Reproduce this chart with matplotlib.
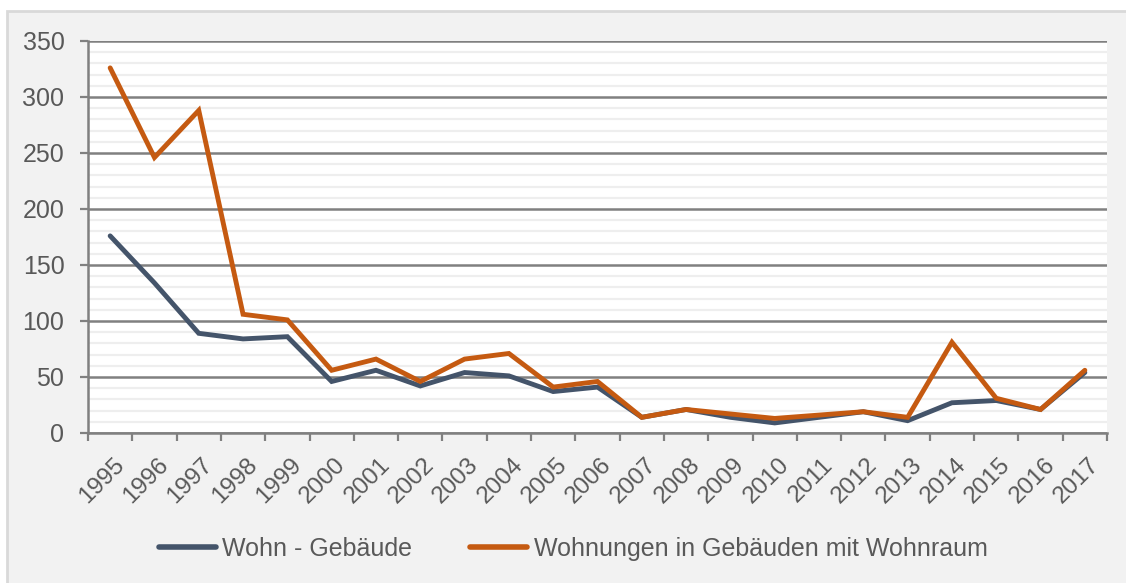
import matplotlib
matplotlib.use("Agg")
import matplotlib.pyplot as plt
from matplotlib.patches import Rectangle
import matplotlib.transforms as mtransforms
import numpy as np

years = [str(y) for y in range(1995, 2018)]
wohn_gebaeude = [176, 134, 89, 84, 86, 46, 56, 42, 54, 51, 37, 41, 14, 21, 14, 9, 14, 19, 11, 27, 29, 21, 54]
wohnungen = [326, 246, 288, 106, 101, 56, 66, 46, 66, 71, 41, 46, 14, 21, 17, 13, 16, 19, 14, 81, 31, 21, 56]
series_names = ["Wohn - Gebäude", "Wohnungen in Gebäuden mit Wohnraum"]
colors = ["#44546a", "#c55a11"]

plt.rcParams['font.family'] = ['Liberation Sans', 'DejaVu Sans']

W, H = 1126, 583
fig = plt.figure(figsize=(W / 100, H / 100), dpi=100)
fig.patch.set_facecolor("white")
# gray panel
panel = Rectangle((7 / W, -0.01), 1.01 - 7 / W, 1.01 - 11 / H, transform=fig.transFigure,
                  facecolor="#f2f2f2", edgecolor="#d9d9d9", linewidth=2, zorder=-10)
fig.patches.append(panel)

ax = fig.add_axes([88 / W, 1 - 433 / H, (1107 - 88) / W, (433 - 41) / H])
ax.set_zorder(5)
ax.set_facecolor("white")

x = np.arange(len(years))
ax.plot(x, wohn_gebaeude, color=colors[0], lw=3.5, label=series_names[0], solid_capstyle="round",
        solid_joinstyle="miter", zorder=3)
ax.plot(x, wohnungen, color=colors[1], lw=3.5, label=series_names[1], solid_capstyle="round",
        solid_joinstyle="miter", zorder=4)

ax.set_xlim(-0.5, len(years) - 0.5)
ax.set_ylim(0, 350)

# y axis
ax.set_yticks(np.arange(0, 351, 50))
ax.set_yticks(np.arange(0, 351, 10), minor=True)
ax.grid(axis="y", which="major", color="#808080", lw=1.8, zorder=1)
ax.grid(axis="y", which="minor", color="#eeeeee", lw=1.6, zorder=0.5)
ax.tick_params(axis="y", which="major", direction="out", length=6, width=1.6, color="#808080",
               labelsize=18, labelcolor="#595959", pad=11)
ax.tick_params(axis="y", which="minor", length=0)

# x axis: ticks at boundaries, labels at centers
ax.set_xticks(np.arange(-0.5, len(years), 1.0))
ax.set_xticklabels([])
ax.set_xticks(x, minor=True)
ax.set_xticklabels(years, minor=True, rotation=45, ha="right", va="top", rotation_mode="anchor")
ax.tick_params(axis="x", which="major", direction="out", length=6, width=1.6, color="#808080")
ax.tick_params(axis="x", which="minor", length=0, labelsize=17.5, labelcolor="#595959", pad=15)
offset = mtransforms.ScaledTranslation(3 / 100, 0, fig.dpi_scale_trans)
for lbl in ax.get_xticklabels(minor=True):
    lbl.set_transform(lbl.get_transform() + offset)

for s in ["top", "right"]:
    ax.spines[s].set_visible(False)
for s in ["left", "bottom"]:
    ax.spines[s].set_color("#808080")
    ax.spines[s].set_linewidth(1.8)
ax.set_axisbelow(True)

leg = fig.legend(loc="center", bbox_to_anchor=(573 / W, 1 - 549 / H), ncol=2, frameon=False,
                 fontsize=18, handlelength=2.3, handletextpad=0.25, columnspacing=2.3,
                 labelcolor="#595959")
for line in leg.get_lines():
    line.set_linewidth(4)
leg.set_zorder(6)

fig.savefig("out.png", dpi=100, facecolor=fig.get_facecolor())
